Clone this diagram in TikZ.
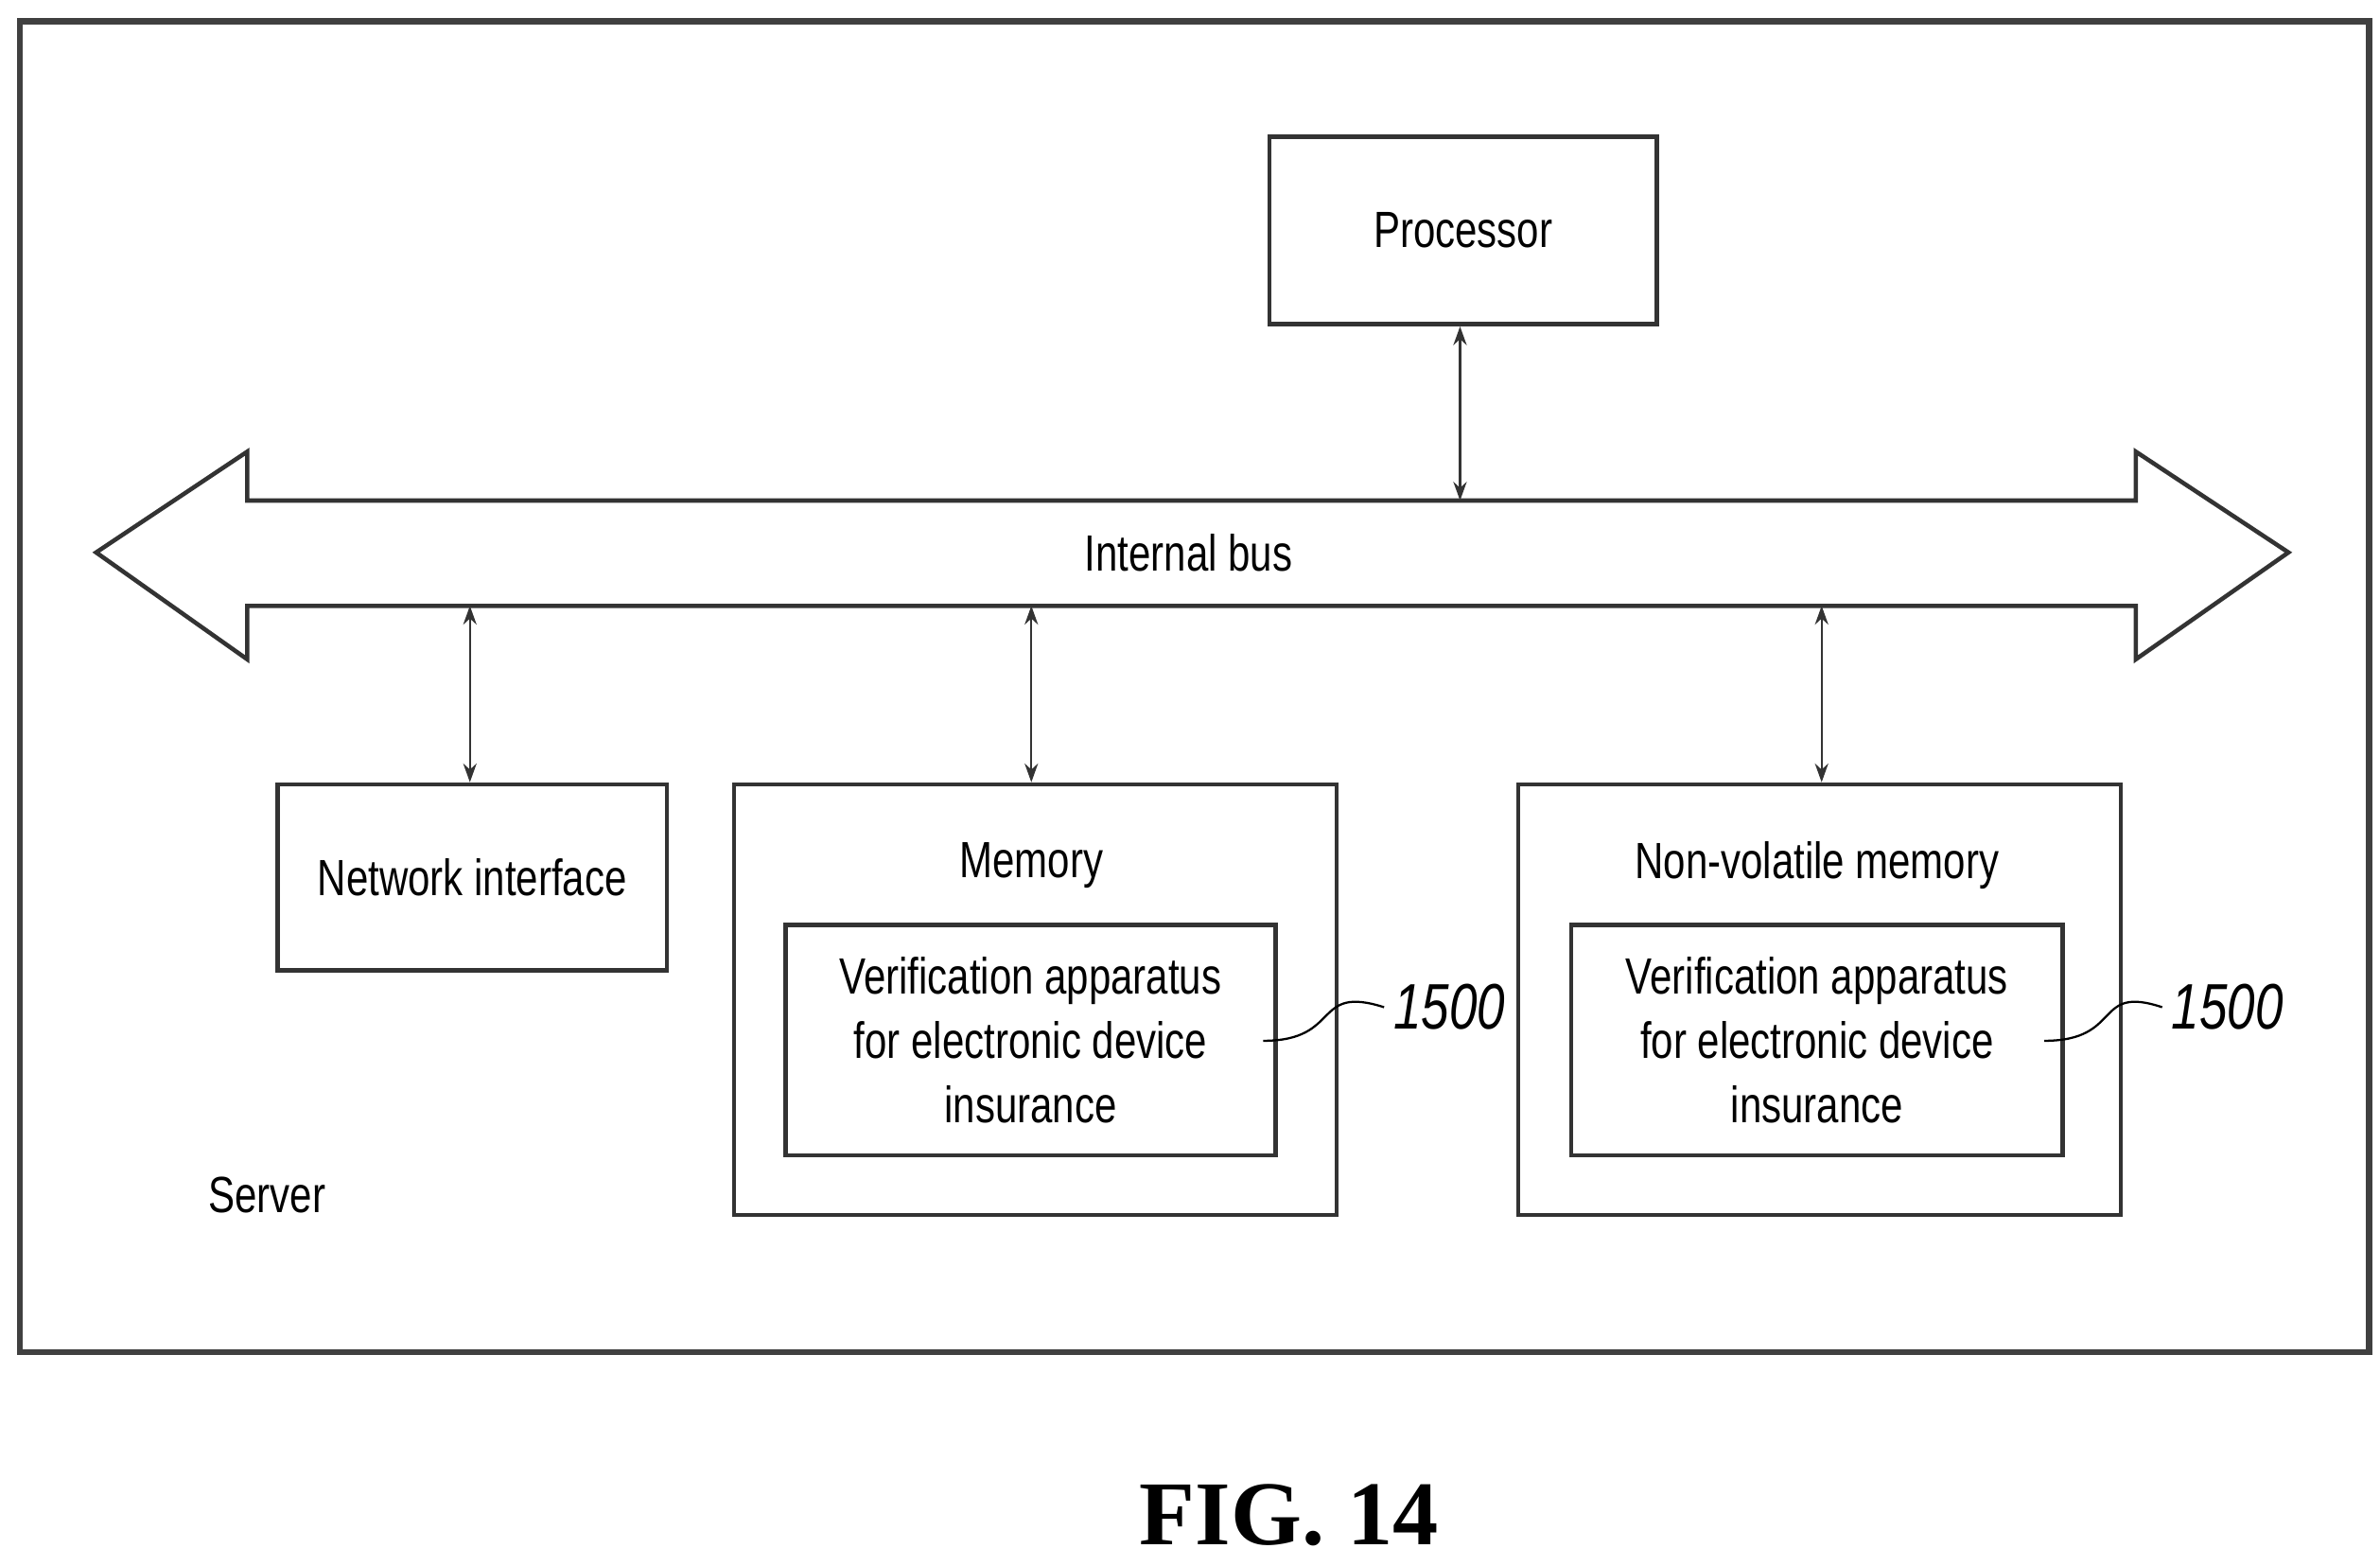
\documentclass[tikz,border=0pt]{standalone}
\usepackage{fontspec}
\setmainfont{Liberation Sans}[FakeStretch=0.78]
\newfontfamily\figfont{Liberation Serif}
\usetikzlibrary{arrows.meta}

\begin{document}
\begin{tikzpicture}[x=0.02cm,y=-0.02cm,
    box/.style={draw=black!80,line width=1.6pt,inner sep=0pt},
    link/.style={black!80,line width=0.8pt,{Stealth[length=7pt,width=5pt]}-{Stealth[length=7pt,width=5pt]}},
    lbl/.style={font=\fontsize{19}{24}\selectfont}]
    \useasboundingbox (0,0) rectangle (1560,1026);

    % Server frame
    \draw[draw=black!75,line width=2.4pt] (13,14) rectangle (1553,886);
    \node[lbl] (server) at (175,783) {Server};

    % Processor
    \node[box,lbl,minimum width=254*0.02cm,minimum height=123*0.02cm] (proc) at (959,151) {Processor};

    % Internal bus
    \draw[draw=black!80,line width=1.6pt] (63,362) -- (162,296) -- (162,328) -- (1400,328) -- (1400,296)
        -- (1500,362) -- (1400,432) -- (1400,397) -- (162,397) -- (162,432) -- cycle;
    \node[lbl] (bus) at (779,362) {Internal bus};
    \coordinate (busP) at (957,328);
    \coordinate (busN) at (308,397);
    \coordinate (busM) at (676,397);
    \coordinate (busV) at (1194,397);

    % Lower units
    \node[box,lbl,minimum width=255*0.02cm,minimum height=122*0.02cm] (net) at (309.5,575) {Network interface};
    \node[box,minimum width=395*0.02cm,minimum height=282*0.02cm] (mem) at (678.5,655) {};
    \node[lbl] (memt) at (676,567) {Memory};
    \node[box,lbl,align=center,minimum width=321*0.02cm,minimum height=151*0.02cm] (ver1) at (675.5,681.5)
        {Verification apparatus\\for electronic device\\insurance};
    \node[box,minimum width=395*0.02cm,minimum height=282*0.02cm] (nvm) at (1192.5,655) {};
    \node[lbl] (nvmt) at (1191,567) {Non-volatile memory};
    \node[box,lbl,align=center,minimum width=322*0.02cm,minimum height=151*0.02cm] (ver2) at (1191,681.5)
        {Verification apparatus\\for electronic device\\insurance};

    % Reference numerals
    \node[lbl,font=\fontsize{24}{28}\selectfont\itshape] (ref1) at (950,660) {1500};
    \node[lbl,font=\fontsize{24}{28}\selectfont\itshape] (ref2) at (1460,660) {1500};
    \draw[line width=0.8pt] (828,682) .. controls (880,682) and (860,645) .. (ref1.west);
    \draw[line width=0.8pt] (1340,682) .. controls (1392,682) and (1372,645) .. (ref2.west);

    % Links
    \draw[link] (proc.south -| busP) -- (busP);
    \draw[link] (busN) -- (net.north -| busN);
    \draw[link] (busM) -- (mem.north -| busM);
    \draw[link] (busV) -- (nvm.north -| busV);

    \node[font=\figfont\fontsize{34}{40}\selectfont\bfseries] (fig) at (845,993) {FIG. 14};
\end{tikzpicture}
\end{document}
